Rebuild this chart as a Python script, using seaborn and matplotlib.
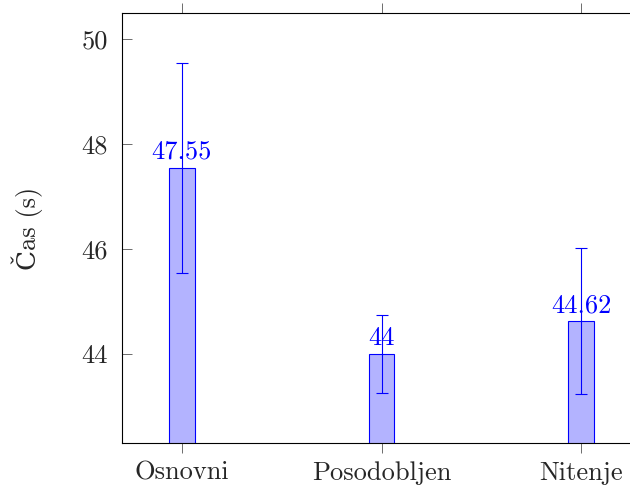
import matplotlib
matplotlib.use("Agg")
import matplotlib.pyplot as plt
import seaborn as sns
import pandas as pd

categories = ["Osnovni", "Posodobljen", "Nitenje"]
values = [47.55, 44.0, 44.62]
errors = [2.0, 0.74, 1.39]
value_labels = ["47.55", "44", "44.62"]
y_ticks = [44, 46, 48, 50]

sns.set_style("white")
plt.rcParams["font.family"] = ["cmr10", "DejaVu Serif"]
plt.rcParams["mathtext.fontset"] = "cm"
plt.rcParams["axes.unicode_minus"] = False

FS = 19

df = pd.DataFrame({"kat": categories, "cas": values})

fig = plt.figure(figsize=(6.3, 4.88), dpi=100)
ax = fig.add_axes([122 / 630, 45 / 488, (641 - 122) / 630, 430 / 488])

sns.barplot(data=df, x="kat", y="cas", ax=ax, width=0.13, color="#b3b3ff",
            saturation=1, edgecolor="#0000ff", linewidth=0.8, errorbar=None)

xs = list(range(len(categories)))
ax.errorbar(xs, values, yerr=errors, fmt="none", ecolor="#0000ff",
            elinewidth=0.8, capsize=4, capthick=0.8, zorder=5)

for x, v, lab in zip(xs, values, value_labels):
    ax.annotate(lab, (x, v), xytext=(0, 3), textcoords="offset points",
                ha="center", va="bottom", color="#0000ff", fontsize=FS, zorder=6)

ax.set_xlim(-0.3, 2.3)
ax.set_ylim(42.305, 50.495)
ax.set_yticks(y_ticks)
ax.set_yticklabels([str(t) for t in y_ticks])
ax.set_xlabel("")
ax.set_ylabel("Čas (s)", fontsize=FS, labelpad=28)

for s in ax.spines.values():
    s.set_visible(True)
    s.set_color("black")
    s.set_linewidth(0.8)

ax.tick_params(axis="y", direction="in", left=True, right=True, length=7,
               width=0.6, color="#555555", labelsize=FS, pad=10)
ax.tick_params(axis="x", direction="out", bottom=True, top=True, length=7,
               width=0.6, color="#555555", labelsize=FS, pad=6)

fig.savefig("out.png", dpi=100)
